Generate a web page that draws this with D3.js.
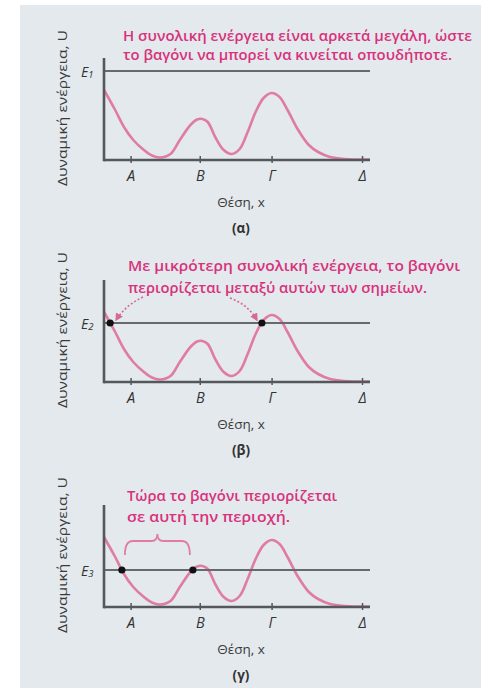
<!DOCTYPE html>
<html><head><meta charset="utf-8">
<script src="https://cdn.jsdelivr.net/npm/d3@7"></script>
<style>
html,body{margin:0;padding:0;background:#fff;}
svg{display:block;}
</style></head>
<body>
<script>
// ---- data ----
const posX = [0, 0.4, 0.75, 1.1, 1.5, 1.8, 2.1, 2.5, 2.85, 3.25, 3.5, 3.7, 3.9, 4.2, 4.5, 4.8, 5.1, 5.4, 5.7, 6.0, 6.3, 6.6, 6.9, 7.3, 7.7, 8.05, 8.5, 9.05, 10];
const potentialU = [70, 51, 33, 20, 10, 4.5, 2.5, 6, 20, 35, 40.5, 41, 38, 22, 10, 6, 11, 28, 48, 62, 67, 63, 50, 30, 15, 8, 3, 1, 0.5];
const tickPos = [1.0, 3.6, 6.3, 9.7];
const tickLabels = ["Α", "Β", "Γ", "Δ"];
const energyLevels = [89, 59, 37];
const energyNames = ["1", "2", "3"];
const panelLabels = ["(α)", "(β)", "(γ)"];
const notes = [
  ["Η συνολική ενέργεια είναι αρκετά μεγάλη, ώστε", "το βαγόνι να μπορεί να κινείται οπουδήποτε."],
  ["Με μικρότερη συνολική ενέργεια, το βαγόνι", "περιορίζεται μεταξύ αυτών των σημείων."],
  ["Τώρα το βαγόνι περιορίζεται", "σε αυτή την περιοχή."]
];
const yTitle = "Δυναμική ενέργεια, U";
const xTitle = "Θέση, x";

// ---- layout ----
const W = 481, H = 688;
const baselines = [160, 382, 607];
const noteLayout = [
  {x: 123, y: [35, 54], w: [349, 329]},
  {x: 128, y: [265, 287], w: [332, 299]},
  {x: 127, y: [495, 516], w: [210, 163]}
];
const pink = "#d8327c", curvePink = "#e07ca4", axisGrey = "#55585b", lineGrey = "#676a6d";
const fontFam = "'Open Sans','Noto Sans',sans-serif";

const svg = d3.select("body").append("svg").attr("width", W).attr("height", H);
svg.append("rect").attr("x", 20).attr("y", 5).attr("width", W - 20).attr("height", H - 5).attr("fill", "#e3e9ed");

const defs = svg.append("defs");
defs.append("marker").attr("id", "arr").attr("viewBox", "0 0 10 10").attr("refX", 8).attr("refY", 5)
  .attr("markerWidth", 5).attr("markerHeight", 5).attr("orient", "auto")
  .append("path").attr("d", "M0,0L10,5L0,10z").attr("fill", "#d46a98");

const x = d3.scaleLinear().domain([0, 10]).range([104, 370]);
const yS = d3.scaleLinear().domain([0, 105]).range([0, -105]);
const pts = posX.map((d, i) => [d, potentialU[i]]);
const line = d3.line().x(d => x(d[0])).y(d => yS(d[1])).curve(d3.curveCatmullRom.alpha(0.5));

function crossings(E) {
  const out = [];
  for (let i = 0; i < pts.length - 1; i++) {
    const [x0, u0] = pts[i], [x1, u1] = pts[i + 1];
    if ((u0 - E) * (u1 - E) < 0) out.push(x0 + (E - u0) / (u1 - u0) * (x1 - x0));
  }
  return out;
}

baselines.forEach((b, p) => {
  const g = svg.append("g").attr("transform", `translate(0,${b})`);
  // y title
  g.append("text").attr("transform", `translate(62,${-52}) rotate(-90)`)
    .attr("text-anchor", "middle").attr("dominant-baseline", "central")
    .attr("font-family", fontFam).attr("font-size", 13).attr("fill", "#3a3a3a")
    .attr("textLength", 156).attr("lengthAdjust", "spacingAndGlyphs").text(yTitle);
  // curve
  g.append("path").datum(pts).attr("d", line).attr("fill", "none")
    .attr("stroke", curvePink).attr("stroke-width", 2.6);
  // energy line
  const E = energyLevels[p];
  g.append("line").attr("x1", x(0)).attr("x2", x(10)).attr("y1", yS(E)).attr("y2", yS(E))
    .attr("stroke", lineGrey).attr("stroke-width", 2);
  const el = g.append("text").attr("x", 81).attr("y", yS(E)).attr("dominant-baseline", "central")
    .attr("font-family", fontFam).attr("font-size", 14).attr("font-style", "italic").attr("fill", "#333");
  el.append("tspan").text("E");
  el.append("tspan").attr("font-size", 9.5).attr("dy", 3).text(energyNames[p]);
  // axes
  const xa = d3.axisBottom(x).tickValues(tickPos).tickFormat((d, i) => tickLabels[i]).tickSize(3).tickPadding(6);
  const ag = g.append("g").call(xa);
  ag.select(".domain").remove();
  ag.selectAll(".tick line").attr("y1", -4).attr("y2", 3).attr("stroke", axisGrey).attr("stroke-width", 1.5);
  ag.selectAll(".tick text").attr("font-family", fontFam).attr("font-size", 14.5).attr("font-style", "italic")
    .attr("fill", "#333").attr("dy", "0.85em");
  g.append("line").attr("x1", x(0)).attr("x2", x(10)).attr("y1", 0).attr("y2", 0)
    .attr("stroke", axisGrey).attr("stroke-width", 2.6);
  g.append("line").attr("x1", x(0)).attr("x2", x(0)).attr("y1", 1.3).attr("y2", yS(102))
    .attr("stroke", axisGrey).attr("stroke-width", 2.6);
  // x title & panel label
  g.append("text").attr("x", 241).attr("y", 42).attr("text-anchor", "middle").attr("dominant-baseline", "central")
    .attr("font-family", fontFam).attr("font-size", 13.5).attr("fill", "#3a3a3a").text(xTitle);
  g.append("text").attr("x", 241).attr("y", 68).attr("text-anchor", "middle").attr("dominant-baseline", "central")
    .attr("font-family", fontFam).attr("font-size", 13.5).attr("font-weight", 700).attr("fill", "#333").text(panelLabels[p]);

  // notes
  const nl = noteLayout[p];
  notes[p].forEach((t, i) => {
    svg.append("text").attr("x", nl.x).attr("y", nl.y[i]).attr("dominant-baseline", "central")
      .attr("font-family", fontFam).attr("font-size", 14.5).attr("font-weight", 600).attr("fill", pink)
      .attr("textLength", nl.w[i]).attr("lengthAdjust", "spacingAndGlyphs").text(t);
  });

  // turning points
  if (p > 0) {
    const cr = crossings(E).slice(0, 2);
    if (p === 1) {
      const a0 = [143, 297 - b], a1 = [230, 298 - b];
      g.append("path").attr("d", `M${a0[0]},${a0[1]} Q${(a0[0] + x(cr[0])) / 2 - 2},${(a0[1] + yS(E)) / 2 - 4} ${x(cr[0]) + 6},${yS(E) - 3}`)
        .attr("fill", "none").attr("stroke", "#d46a98").attr("stroke-width", 1.6).attr("stroke-dasharray", "2,2")
        .attr("marker-end", "url(#arr)");
      g.append("path").attr("d", `M${a1[0]},${a1[1]} Q${(a1[0] + x(cr[1])) / 2 + 2},${(a1[1] + yS(E)) / 2 - 6} ${x(cr[1]) - 5},${yS(E) - 3}`)
        .attr("fill", "none").attr("stroke", "#d46a98").attr("stroke-width", 1.6).attr("stroke-dasharray", "2,2")
        .attr("marker-end", "url(#arr)");
    } else {
      const xl = x(cr[0]) + 3, xr = x(cr[1]) - 3, xm = (xl + xr) / 2;
      const yb = yS(E) - 15, yt = yS(E) - 29, yc = yS(E) - 36;
      g.append("path").attr("d",
        `M${xl},${yb} Q${xl},${yt} ${xl + 8},${yt} L${xm - 6},${yt} Q${xm},${yt} ${xm},${yc} Q${xm},${yt} ${xm + 6},${yt} L${xr - 8},${yt} Q${xr},${yt} ${xr},${yb}`)
        .attr("fill", "none").attr("stroke", curvePink).attr("stroke-width", 1.8);
    }
    g.selectAll("circle.tp").data(cr).enter().append("circle")
      .attr("cx", d => x(d)).attr("cy", yS(E)).attr("r", 3.6).attr("fill", "#111");
  }
});
</script>
</body></html>
